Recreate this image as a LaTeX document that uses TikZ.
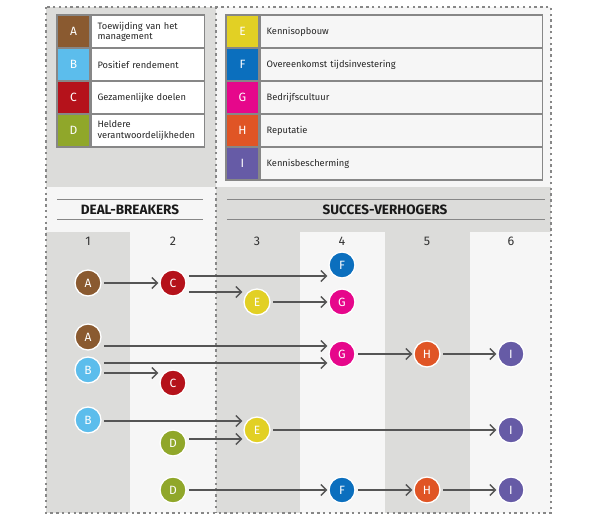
\documentclass[tikz,border=0pt]{standalone}
\usepackage{fontspec}
\setmainfont{Fira Sans}
\usetikzlibrary{arrows.meta,positioning}
\definecolor{bggray}{HTML}{DCDCDA}
\definecolor{bglight}{HTML}{F6F6F6}
\definecolor{rulegray}{HTML}{878787}
\definecolor{arrowgray}{HTML}{555555}
\definecolor{colA}{HTML}{8A5A30}
\definecolor{colB}{HTML}{5CBDEC}
\definecolor{colC}{HTML}{B5121B}
\definecolor{colD}{HTML}{90A72A}
\definecolor{colE}{HTML}{E2D024}
\definecolor{colF}{HTML}{0B6FBE}
\definecolor{colG}{HTML}{E6078B}
\definecolor{colH}{HTML}{E05525}
\definecolor{colI}{HTML}{665BA6}

\begin{document}
\begin{tikzpicture}[x=1pt,y=-1pt,
  cell/.style={draw=rulegray,line width=1.6pt,minimum height=33pt,inner sep=0pt,font=\fontsize{9.3}{10.2}\selectfont,text=black!85},
  key/.style={cell,minimum width=33pt,text=white,font=\fontsize{12}{13}\selectfont},
  desc/.style={cell,align=left,inner xsep=6pt},
  dot/.style={circle,draw=white,line width=1.3pt,minimum size=26pt,inner sep=0pt,text=white,font=\fontsize{12}{13}\selectfont},
  arr/.style={-{Straight Barb[length=5.5pt,width=11pt]},line width=1.4pt,arrowgray,shorten <=2.5pt,shorten >=1pt},
  head/.style={font=\fontsize{13.5}{14}\selectfont\bfseries,text=black!90},
  num/.style={font=\fontsize{12.5}{13}\selectfont,text=black!80},
  rule/.style={rulegray,line width=0.8pt},
  dots/.style={rulegray,line width=2.4pt,dash pattern=on 2.4pt off 3.4pt}]
  \useasboundingbox[fill=white] (0,0) rectangle (600,520);
  % panels
  \fill[bggray] (46,7) rectangle (216,187);
  \fill[bglight] (216,7) rectangle (551,187);
  \fill[bglight] (46,187) rectangle (216,232);
  \fill[bggray] (216,187) rectangle (551,232);
  \foreach \x/\w/\c in {46/84/bggray,130/86/bglight,216/84/bggray,300/85/bglight,385/85/bggray,470/81/bglight}
    \fill[\c] (\x,232) rectangle ++(\w,281);
  \draw[dots] (46,7) rectangle (551,513);
  \draw[dots] (216,7) -- (216,513);
  % legends
  \foreach \k/\t [count=\i] in {A/{Toewijding van het\\management},B/Positief rendement,C/Gezamenlijke doelen,D/{Heldere\\verantwoordelijkheden}} {
    \node[key,fill=col\k] (k\k) at (73.5,{15+33*(\i-0.5)}) {\k};
    \node[desc,text width=101pt,fill=white,right=0pt of k\k] (t\k) {\t};
  }
  \foreach \k/\t [count=\i] in {E/Kennisopbouw,F/Overeenkomst tijdsinvestering,G/Bedrijfscultuur,H/Reputatie,I/Kennisbescherming} {
    \node[key,fill=col\k] (k\k) at (242.5,{15+33*(\i-0.5)}) {\k};
    \node[desc,text width=270pt,fill=bglight,right=0pt of k\k] (t\k) {\t};
  }
  % headers
  \draw[rule] (57,199) -- (203,199) (57,219) -- (203,219);
  \draw[rule] (227,199) -- (545,199) (227,219) -- (545,219);
  \node[head] (breakers) at (130,209.5) {DEAL-BREAKERS};
  \node[head] (verhogers) at (385,209.5) {SUCCES-VERHOGERS};
  \foreach \x [count=\i] in {88,173,257,342,427,511}
    \node[num] (n\i) at (\x,241.5) {\i};
  % steps
  \node[dot,fill=colA] (a1) at (88,283) {A};
  \node[dot,fill=colC] (c1) at (173,283) {C};
  \node[dot,fill=colF] (f1) at (342,265) {F};
  \node[dot,fill=colE] (e1) at (257,302) {E};
  \node[dot,fill=colG] (g1) at (342,302) {G};
  \node[dot,fill=colA] (a2) at (88,337) {A};
  \node[dot,fill=colB] (b2) at (88,370) {B};
  \node[dot,fill=colC] (c2) at (173,383) {C};
  \node[dot,fill=colG] (g2) at (342,354) {G};
  \node[dot,fill=colH] (h2) at (427,354) {H};
  \node[dot,fill=colI] (i2) at (511,354) {I};
  \node[dot,fill=colB] (b3) at (88,420) {B};
  \node[dot,fill=colE] (e3) at (257,430) {E};
  \node[dot,fill=colD] (d3) at (173,443) {D};
  \node[dot,fill=colI] (i3) at (511,430) {I};
  \node[dot,fill=colD] (d4) at (173,490) {D};
  \node[dot,fill=colF] (f4) at (342,490) {F};
  \node[dot,fill=colH] (h4) at (427,490) {H};
  \node[dot,fill=colI] (i4) at (511,490) {I};
  \foreach \s/\t/\d in {a1/c1/0,c1/f1/7,c1/e1/-9,e1/g1/0,a2/g2/-9,b2/g2/7,b2/c2/-3,g2/h2/0,h2/i2/0,b3/e3/-1,d3/e3/4,e3/i3/0,d4/f4/0,f4/h4/0,h4/i4/0}
    \draw[arr] ([yshift=\d pt]\s.east) -- ([yshift=\d pt]\s.east -| \t.west);
\end{tikzpicture}
\end{document}
